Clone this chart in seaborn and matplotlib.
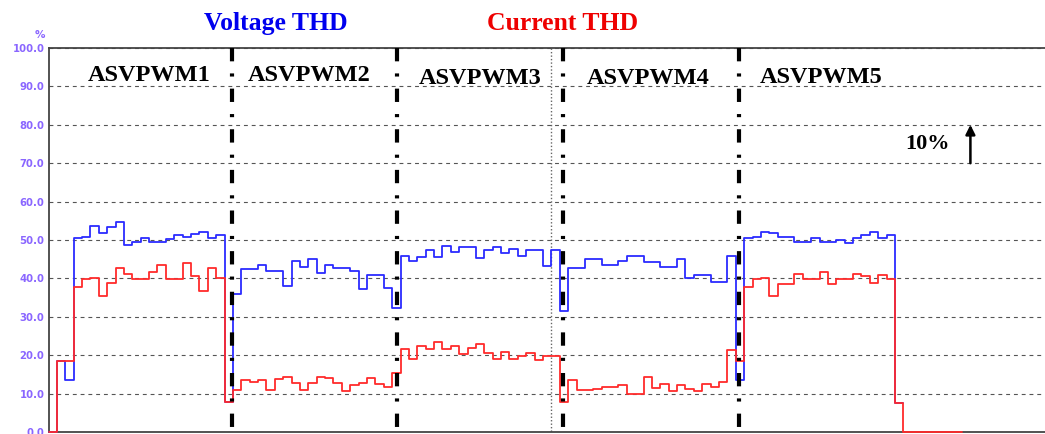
import numpy as np
import pandas as pd
import matplotlib
matplotlib.use("Agg")
import matplotlib.pyplot as plt
import seaborn as sns

# THD trend samples (%), one value per recording interval
voltage_thd = [
    0.0, 18.5, 13.5, 50.5, 50.8, 53.6, 51.7, 53.3, 54.6, 48.6,
    49.5, 50.6, 49.5, 49.5, 50.2, 51.4, 50.7, 51.5, 52.1, 50.6,
    51.4, 7.7, 36.0, 42.5, 42.5, 43.6, 41.9, 41.9, 38.0, 44.5,
    43.0, 45.0, 41.5, 43.6, 42.8, 42.8, 41.8, 37.3, 41.0, 41.0,
    37.5, 32.4, 45.8, 44.6, 45.5, 47.4, 45.7, 48.5, 46.8, 48.1,
    48.1, 45.3, 47.4, 48.3, 46.6, 47.6, 45.8, 47.4, 47.4, 43.2,
    47.4, 31.6, 42.6, 42.6, 45.1, 45.1, 43.5, 43.5, 44.5, 45.9,
    45.9, 44.4, 44.4, 42.9, 42.9, 45.1, 40.0, 40.9, 40.9, 39.0,
    39.0, 45.8, 13.5, 50.5, 50.7, 52.0, 51.7, 50.9, 50.9, 49.4,
    49.4, 50.6, 49.4, 49.4, 50.1, 49.2, 50.5, 51.2, 52.0, 50.6,
    51.4, 7.5,
]

current_thd = [
    0.0, 18.5, 18.5, 37.8, 39.8, 40.1, 35.3, 38.8, 42.8, 41.2,
    39.8, 39.8, 41.6, 43.4, 39.8, 39.8, 44.0, 40.6, 36.6, 42.6,
    40.0, 7.7, 11.0, 13.5, 13.1, 13.5, 11.0, 13.7, 14.2, 12.7,
    10.9, 12.7, 14.4, 14.0, 12.7, 10.7, 12.2, 12.7, 14.0, 12.5,
    11.6, 15.4, 21.5, 19.0, 22.3, 21.5, 23.5, 21.5, 22.4, 20.4,
    22.0, 23.0, 20.6, 19.0, 20.9, 19.0, 19.9, 20.7, 18.7, 19.7,
    19.7, 7.8, 13.5, 10.9, 10.9, 11.1, 11.7, 11.7, 12.3, 10.0,
    10.0, 14.3, 11.5, 12.4, 10.7, 12.2, 11.1, 10.7, 12.4, 11.6,
    12.9, 21.4, 18.5, 37.7, 39.9, 40.2, 35.4, 38.6, 38.6, 41.1,
    39.8, 39.8, 41.7, 38.5, 39.9, 39.9, 41.1, 40.6, 38.9, 41.0,
    39.9, 7.5, 0.0, 0.0, 0.0, 0.0, 0.0, 0.0, 0.0,
]

# Switching-scheme boundaries (sample index) and the analyser cursor
scheme_names = ["ASVPWM1", "ASVPWM2", "ASVPWM3", "ASVPWM4", "ASVPWM5"]
scheme_label_x = [12.0, 31.1, 51.5, 71.5, 92.2]
scheme_label_y = [91.3, 91.3, 90.6, 90.7, 90.8]
scheme_bounds = [21.9, 41.6, 61.4, 82.4]
cursor_pos = 60.0

y_ticks = [0, 10, 20, 30, 40, 50, 60, 70, 80, 90, 100]
y_tick_labels = [f"{v:.1f}" for v in y_ticks]


def step_frame(values):
    vals = np.asarray(values, dtype=float)
    idx = np.arange(len(vals) + 1)
    return pd.DataFrame({"sample": idx, "thd": np.append(vals, vals[-1])})


sns.set_theme(style="white")
plt.rcParams["font.family"] = ["DejaVu Sans"]

W, H = 1045, 434
fig = plt.figure(figsize=(W / 100, H / 100), dpi=100)
ax = fig.add_axes([48.5 / W, 2 / H, 1 - 48.5 / W, 384 / H])

blue = "#2b2bff"
red = "#ff2b2b"

sns.lineplot(data=step_frame(voltage_thd), x="sample", y="thd", ax=ax,
             drawstyle="steps-post", color=blue, lw=1.3, estimator=None,
             sort=False, zorder=2.6, clip_on=False)
sns.lineplot(data=step_frame(current_thd), x="sample", y="thd", ax=ax,
             drawstyle="steps-post", color=red, lw=1.3, estimator=None,
             sort=False, zorder=2.7, clip_on=False)

ax.set_xlim(0, 118.9)
ax.set_ylim(0, 100)
ax.set_xticks([])
ax.set_yticks(y_ticks)
ax.set_yticklabels(y_tick_labels, fontweight="bold")
ax.tick_params(axis="y", length=0, pad=3, labelsize=7.3, labelcolor="#8a66ff")
ax.set_xlabel("")
ax.set_ylabel("")

ax.yaxis.grid(True, linestyle=(0, (3.5, 3.5)), color="#555555", lw=0.8)
ax.set_axisbelow(True)

for side in ["left", "top", "bottom"]:
    ax.spines[side].set_color("#444444")
    ax.spines[side].set_linewidth(1.3)
ax.spines["right"].set_visible(False)

# Thick dash-dot separators between schemes, drawn top-down
for xb in scheme_bounds:
    ax.plot([xb, xb], [100, 0], color="black", lw=3.0,
            linestyle=(0, (3.2, 2.9, 0.75, 2.9)), solid_capstyle="butt",
            dash_capstyle="butt", zorder=3)
ax.plot([cursor_pos, cursor_pos], [100, 0], color="#666666", lw=1.0,
        linestyle=(0, (1, 1.5)), zorder=1.5)

serif = "Liberation Serif"
for name, xl, yl in zip(scheme_names, scheme_label_x, scheme_label_y):
    ax.text(xl, yl, name, ha="center", va="baseline", fontsize=17.5,
            fontweight="bold", family=serif, color="black", zorder=4)

ax.text(27.1, 106.3, "Voltage THD", ha="center", va="center", fontsize=18.5,
        fontweight="bold", family=serif, color="#0000ee", clip_on=False)
ax.text(61.3, 106.3, "Current THD", ha="center", va="center", fontsize=18.5,
        fontweight="bold", family=serif, color="#ee0000", clip_on=False)

ax.text(-0.0035, 1.034, "%", transform=ax.transAxes, ha="right",
        va="center", fontsize=7.5, color="#8a66ff", fontweight="bold")

ax.text(104.9, 73.7, "10%", ha="center", va="baseline", fontsize=16,
        fontweight="bold", family=serif, color="black")
ax.annotate("", xy=(110, 80), xytext=(110, 70),
            arrowprops=dict(arrowstyle="-|>", color="black", lw=1.8,
                            mutation_scale=14, shrinkA=0, shrinkB=0))

fig.savefig("out.png", dpi=100)
